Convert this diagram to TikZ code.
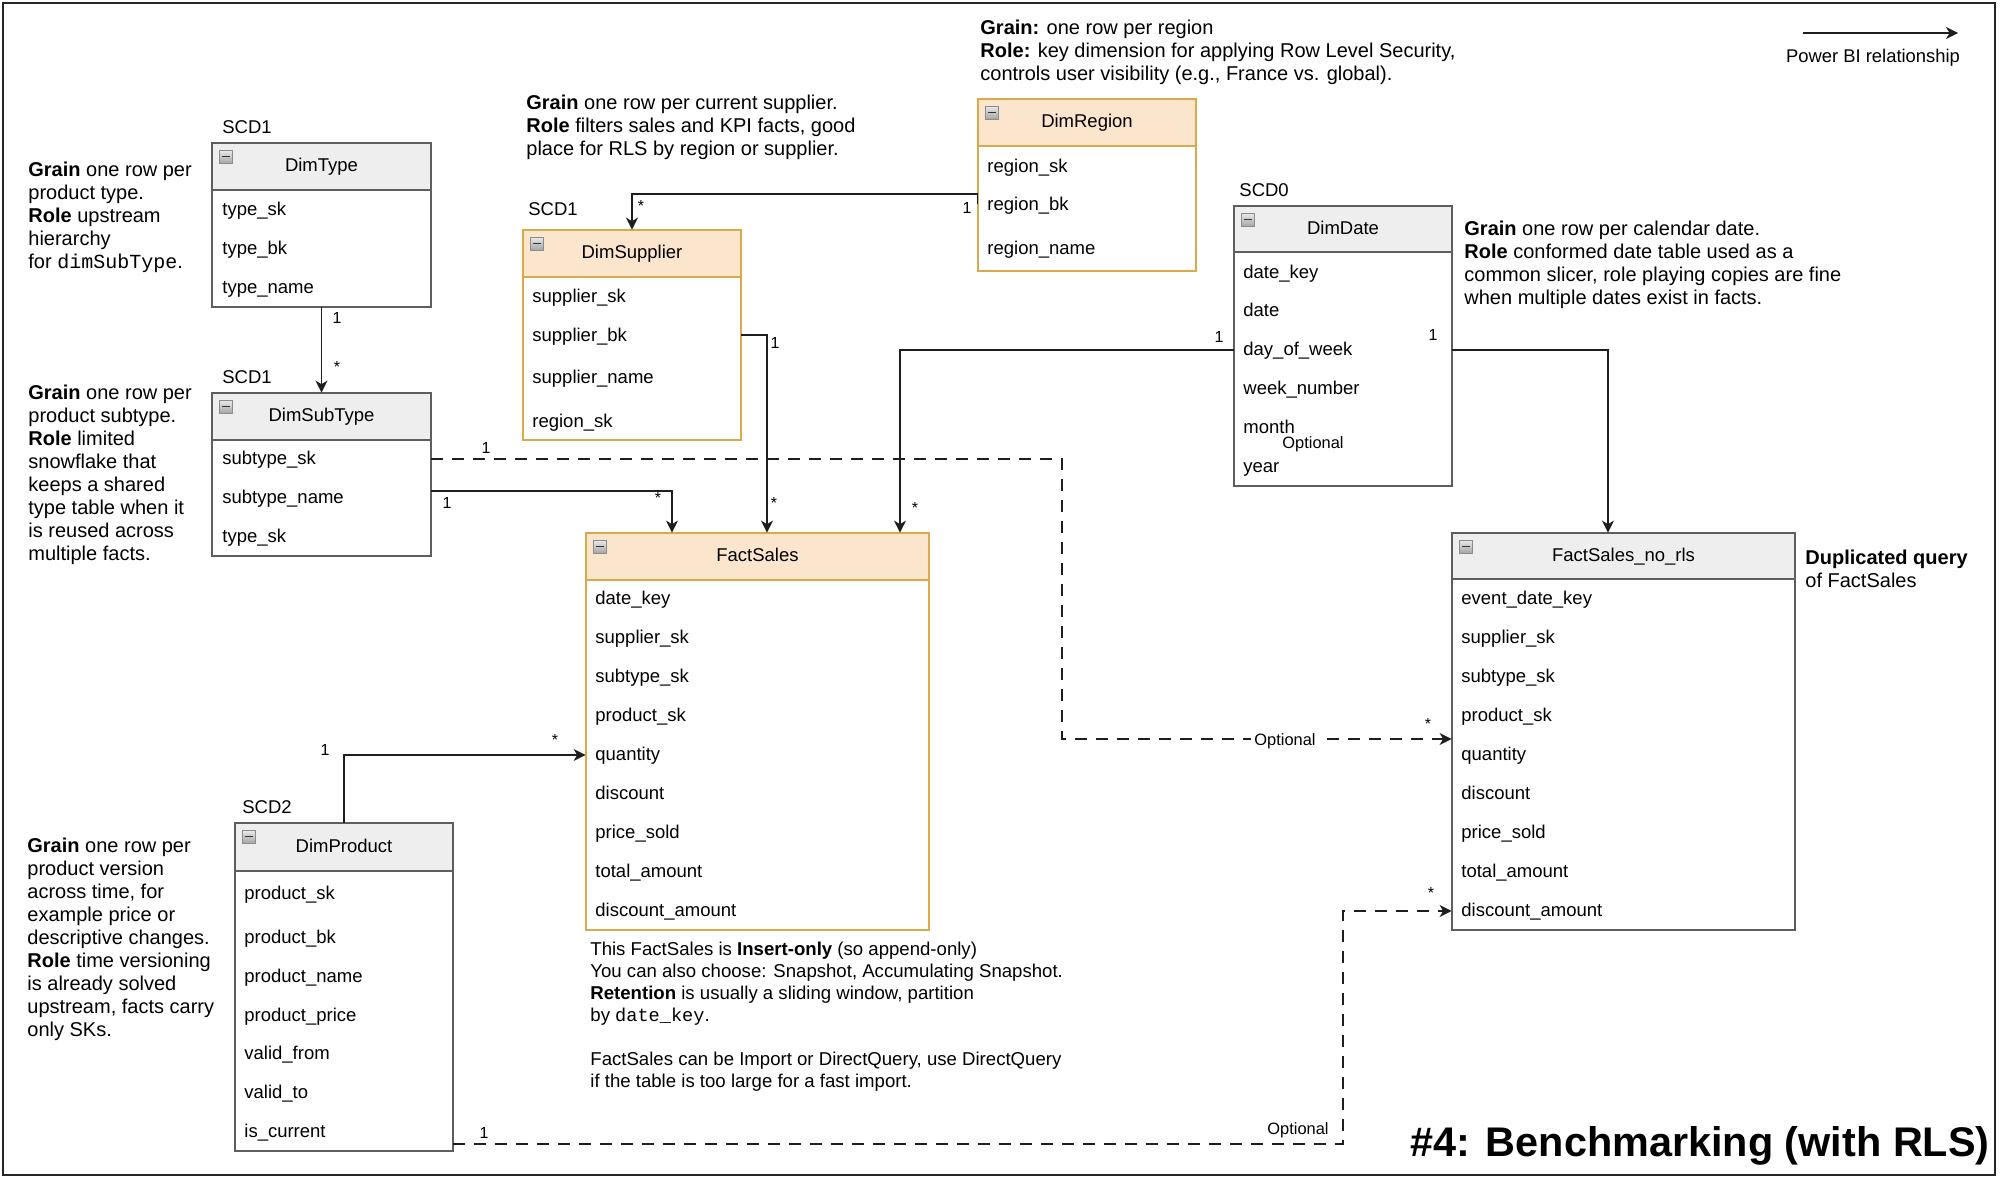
\documentclass[tikz,border=0pt]{standalone}
\usepackage{fontspec}
\setmainfont{Liberation Sans}
\setmonofont{Liberation Mono}
\usetikzlibrary{arrows.meta,fit}
\definecolor{grayfill}{HTML}{EEEEEE}
\definecolor{grayline}{HTML}{5E5E5E}
\definecolor{orfill}{HTML}{FBE5CD}
\definecolor{orline}{HTML}{D9A94C}
\definecolor{conn}{HTML}{1E1E1E}
\newcommand\nst{\rule{0pt}{7.5pt}}
\newcommand\fst{\rule{0pt}{7pt}}
\newcommand\dbtable[8]{%
  \node[fit={(#2,#3)(#4,#5)}, inner sep=0pt] (#1) {};
  \fill[white] (#2,#3) rectangle (#4,#5);
  \fill[#8fill] (#2,#3) rectangle (#4,#6);
  \draw[#8line, line width=1pt] (#2,#6) -- (#4,#6);
  \draw[#8line, line width=1pt] (#2,#3) rectangle (#4,#5);
  \node[tbltitle] (#1-title) at ({(#2+#4)/2},{(#3+#6)/2}) {#7};
  \path[draw=black!45, top color=black!8, bottom color=black!35, line width=0.5pt] ({#2+7},{#3+7}) rectangle ({#2+20},{#3+20});
  \draw[line width=0.8pt, black!80] ({#2+9.5},{#3+13.5}) -- ({#2+17.5},{#3+13.5});
}
\begin{document}
\begin{tikzpicture}[x=0.5pt,y=-0.5pt,
  rowtxt/.style={anchor=west, inner sep=0pt, font=\fontsize{9.25pt}{11pt}\selectfont, text height=6.9pt, text depth=1.9pt},
  tbltitle/.style={inner sep=0pt, font=\fontsize{9.25pt}{11pt}\selectfont, text height=6.9pt, text depth=1.9pt},
  note/.style={anchor=north west, inner sep=0pt, align=left, font=\fontsize{10pt}{11.5pt}\selectfont},
  factnote/.style={anchor=north west, inner sep=0pt, align=left, font=\fontsize{9.3pt}{11pt}\selectfont},
  lbl/.style={inner sep=0pt, font=\fontsize{8pt}{9pt}\selectfont},
  optlbl/.style={inner sep=1.5pt, fill=white, font=\fontsize{8.2pt}{9pt}\selectfont},
  rel/.style={draw=conn, line width=0.8pt, -{Stealth[length=6pt,width=6pt,inset=1.8pt]}},
  optrel/.style={rel, dash pattern=on 6pt off 4.5pt}
]
\useasboundingbox (0,0) rectangle (2000,1178);
\fill[white] (0,0) rectangle (2000,1178);
\draw[line width=1pt, black!85] (3,3) rectangle (1995,1175);

% ---------- tables ----------
\dbtable{type}{212}{143}{431}{307}{190}{DimType}{gray}
\dbtable{sub}{212}{393}{431}{556}{440}{DimSubType}{gray}
\dbtable{sup}{523}{230}{741}{440}{277}{DimSupplier}{or}
\dbtable{reg}{978}{99}{1196}{271}{146}{DimRegion}{or}
\dbtable{date}{1234}{206}{1452}{486}{252}{DimDate}{gray}
\dbtable{fact}{586}{533}{929}{930}{580}{FactSales}{or}
\dbtable{nrls}{1452}{533}{1795}{930}{579}{FactSales\_no\_rls}{gray}
\dbtable{prod}{235}{823}{453}{1151}{871}{DimProduct}{gray}

% ---------- SCD labels ----------
\node[rowtxt] (scd-type) at (222,128) {SCD1};
\node[rowtxt] (scd-sub) at (222,378) {SCD1};
\node[rowtxt] (scd-sup) at (528,210) {SCD1};
\node[rowtxt] (scd-date) at (1239,191) {SCD0};
\node[rowtxt] (scd-prod) at (242,808) {SCD2};

% ---------- rows ----------
\foreach \n/\y/\t in {1/210/type\_sk, 2/249/type\_bk, 3/288/type\_name}
  \node[rowtxt] (type-\n) at (222,\y) {\t};
\foreach \n/\y/\t in {1/459/subtype\_sk, 2/498/subtype\_name, 3/537/type\_sk}
  \node[rowtxt] (sub-\n) at (222,\y) {\t};
\foreach \n/\y/\t in {1/297/supplier\_sk, 2/336/supplier\_bk, 3/378/supplier\_name, 4/422/region\_sk}
  \node[rowtxt] (sup-\n) at (532,\y) {\t};
\foreach \n/\y/\t in {1/167/region\_sk, 2/205/region\_bk, 3/249/region\_name}
  \node[rowtxt] (reg-\n) at (987,\y) {\t};
\foreach \n/\y/\t in {1/273/date\_key, 2/311/date, 3/350/day\_of\_week, 4/389/week\_number, 5/428/month, 6/467/year}
  \node[rowtxt] (date-\n) at (1243,\y) {\t};
\foreach \n/\y/\t in {1/599/date\_key, 2/638/supplier\_sk, 3/677/subtype\_sk, 4/716/product\_sk, 5/755/quantity, 6/794/discount, 7/833/price\_sold, 8/872/total\_amount, 9/911/discount\_amount}
  \node[rowtxt] (fact-\n) at (595,\y) {\t};
\foreach \n/\y/\t in {1/599/event\_date\_key, 2/638/supplier\_sk, 3/677/subtype\_sk, 4/716/product\_sk, 5/755/quantity, 6/794/discount, 7/833/price\_sold, 8/872/total\_amount, 9/911/discount\_amount}
  \node[rowtxt] (nrls-\n) at (1461,\y) {\t};
\foreach \n/\y/\t in {1/894/product\_sk, 2/938/product\_bk, 3/977/product\_name, 4/1016/product\_price, 5/1054/valid\_from, 6/1093/valid\_to, 7/1132/is\_current}
  \node[rowtxt] (prod-\n) at (244,\y) {\t};

% ---------- notes ----------
\node[note] (n-type) at (28,161) {\nst\textbf{Grain} one row per\\product type.\\\textbf{Role} upstream\\hierarchy\\for \texttt{dimSubType}.};
\node[note] (n-sub) at (28,384) {\nst\textbf{Grain} one row per\\product subtype.\\\textbf{Role} limited\\snowflake that\\keeps a shared\\type table when it\\is reused across\\multiple facts.};
\node[note] (n-sup) at (526,94) {\nst\textbf{Grain} one row per current supplier.\\\textbf{Role} filters sales and KPI facts, good\\place for RLS by region or supplier.};
\node[note] (n-reg) at (980,19) {\nst\textbf{Grain:} one row per region\\\textbf{Role:} key dimension for applying Row Level Security,\\controls user visibility (e.g., France vs. global).};
\node[note] (n-date) at (1464,220) {\nst\textbf{Grain} one row per calendar date.\\\textbf{Role} conformed date table used as a\\common slicer, role playing copies are fine\\when multiple dates exist in facts.};
\node[note] (n-prod) at (27,837) {\nst\textbf{Grain} one row per\\product version\\across time, for\\example price or\\descriptive changes.\\\textbf{Role} time versioning\\is already solved\\upstream, facts carry\\only SKs.};
\node[note] (n-nrls) at (1805,549) {\nst\textbf{Duplicated query}\\of FactSales};
\node[factnote] (n-fact) at (590,941.5) {\fst This FactSales is \textbf{Insert-only} (so append-only)\\You can also choose: Snapshot, Accumulating Snapshot.\\\textbf{Retention} is usually a sliding window, partition\\by \texttt{date\_key}.\\[11pt]FactSales can be Import or DirectQuery, use DirectQuery\\if the table is too large for a fast import.};

% ---------- legend ----------
\coordinate (lg-a) at (1803,33);
\coordinate (lg-b) at (1958,33);
\draw[rel] (lg-a) -- (lg-b);
\node[inner sep=0pt, font=\fontsize{9.2pt}{11pt}\selectfont] (lg-t) at (1873,58) {Power BI relationship};

% ---------- title ----------
\node[anchor=base east, inner sep=0pt, font=\fontsize{20.7pt}{24pt}\selectfont\bfseries] (title) at (1990,1156) {\#4: Benchmarking (with RLS)};

% ---------- connectors ----------
\draw[rel] (type.south) -- (sub.north);
\draw[rel] (sub.east |- 0,491) -| (fact.north -| 672,0);
\draw[rel] (sup.east |- 0,335) -| (fact.north -| 767,0);
\draw[rel] (date.west |- 0,350) -| (fact.north -| 900,0);
\draw[rel] (date.east |- 0,350) -| (nrls.north -| 1608,0);
\draw[rel] (reg.west |- 0,204) -- (reg.west |- 0,194) -| (sup.north -| 632,0);
\draw[rel] (prod.north -| 344,0) |- (fact.west |- 0,755);
\draw[optrel] (sub.east |- 0,459) -- (1062,459) |- (nrls.west |- 0,739);
\draw[optrel] (prod.east |- 0,1144) -- (1343,1144) |- (nrls.west |- 0,911);

% ---------- cardinality labels ----------
\node[lbl] (c1a) at (337,318) {1};
\node[lbl] (c1b) at (337,367) {*};
\node[lbl] (c2a) at (447,503) {1};
\node[lbl] (c2b) at (658,498) {*};
\node[lbl] (c3a) at (775,343) {1};
\node[lbl] (c3b) at (774,503) {*};
\node[lbl] (c4a) at (1219,337) {1};
\node[lbl] (c4b) at (915,508) {*};
\node[lbl] (c5a) at (1433,335) {1};
\node[lbl] (c6a) at (967,208) {1};
\node[lbl] (c6b) at (641,206) {*};
\node[lbl] (c7a) at (325,750) {1};
\node[lbl] (c7b) at (555,740) {*};
\node[lbl] (c8a) at (486,448) {1};
\node[lbl] (c8b) at (1428,724) {*};
\node[optlbl] (o8) at (1285,741) {Optional};
\node[lbl] (c9a) at (484,1133) {1};
\node[lbl] (c9b) at (1431,893) {*};
\node[inner sep=0pt, font=\fontsize{8.2pt}{9pt}\selectfont] (o9) at (1298,1130) {Optional};
\node[inner sep=0pt, font=\fontsize{8.2pt}{9pt}\selectfont] (odate) at (1313,444) {Optional};
\end{tikzpicture}
\end{document}
